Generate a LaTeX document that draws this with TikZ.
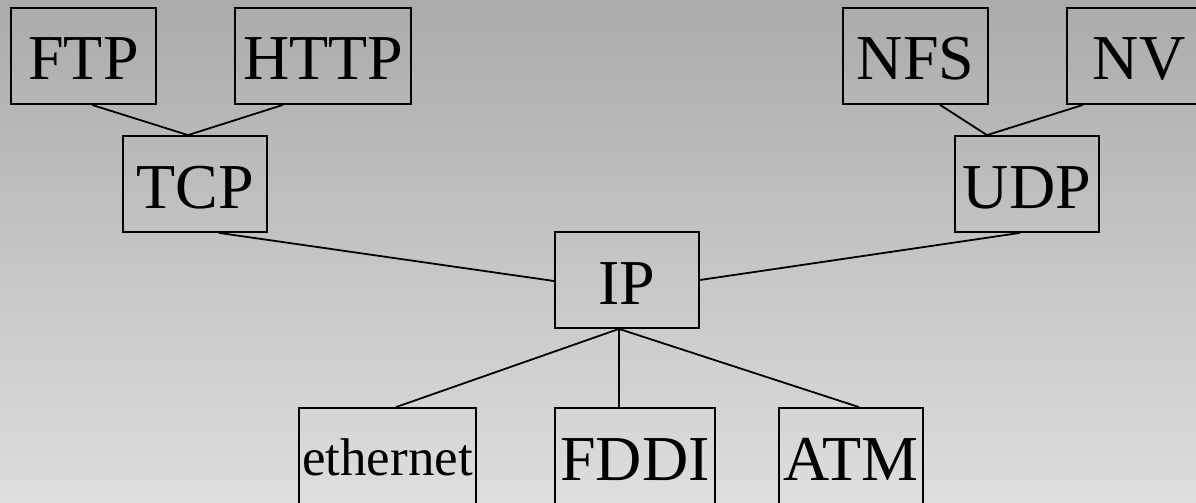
\documentclass[tikz,border=0pt]{standalone}
\usepackage{fontspec}
\setmainfont{Liberation Serif}
\definecolor{bgtop}{gray}{0.67}
\definecolor{bgbot}{gray}{0.87}
\begin{document}
\begin{tikzpicture}[x=1pt,y=-1pt,
  layer/.style={draw=black, line width=1.8pt, inner sep=0pt,
    minimum height=96pt, text height=48pt, text depth=0pt,
    font=\fontsize{64}{70}\selectfont},
  small/.style={text height=38pt, font=\fontsize{53}{60}\selectfont},
  link/.style={line width=1.8pt}]
\useasboundingbox (0,0) rectangle (1196,503);
\clip (0,0) rectangle (1196,503);
\shade[top color=bgtop, bottom color=bgbot] (0,0) rectangle (1196,503);

% application layer
\node[layer, minimum width=145pt] (ftp)  at (83.5,56)  {FTP};
\node[layer, minimum width=176pt] (http) at (323,56)   {HTTP};
\node[layer, minimum width=145pt] (nfs)  at (915.5,56) {NFS};
\node[layer, minimum width=144pt] (nv)   at (1139,56)  {NV};
% transport layer
\node[layer, minimum width=144pt] (tcp)  at (195,184)  {TCP};
\node[layer, minimum width=144pt] (udp)  at (1027,184) {UDP};
% network layer
\node[layer, minimum width=144pt] (ip)   at (627,280)  {IP};
% link layer
\node[layer, small, minimum width=177pt] (eth) at (387.5,456) {ethernet};
\node[layer, minimum width=160pt] (fddi) at (635,456) {FDDI};
\node[layer, minimum width=144pt] (atm)  at (851,456) {ATM};

\draw[link] ([xshift=8.5pt]ftp.south) -- ([xshift=-7pt]tcp.north);
\draw[link] ([xshift=-40pt]http.south) -- ([xshift=-7pt]tcp.north);
\draw[link] ([xshift=24.5pt]nfs.south) -- ([xshift=-40pt]udp.north);
\draw[link] ([xshift=-56pt]nv.south) -- ([xshift=-40pt]udp.north);
\draw[link] ([xshift=24pt]tcp.south) -- ([yshift=-1pt]ip.west);
\draw[link] ([xshift=-7pt]udp.south) -- (ip.east);
\draw[link] ([xshift=-8pt]ip.south) -- ([xshift=8.5pt]eth.north);
\draw[link] ([xshift=-8pt]ip.south) -- ([xshift=-16pt]fddi.north);
\draw[link] ([xshift=-8pt]ip.south) -- ([xshift=8pt]atm.north);
\end{tikzpicture}
\end{document}
